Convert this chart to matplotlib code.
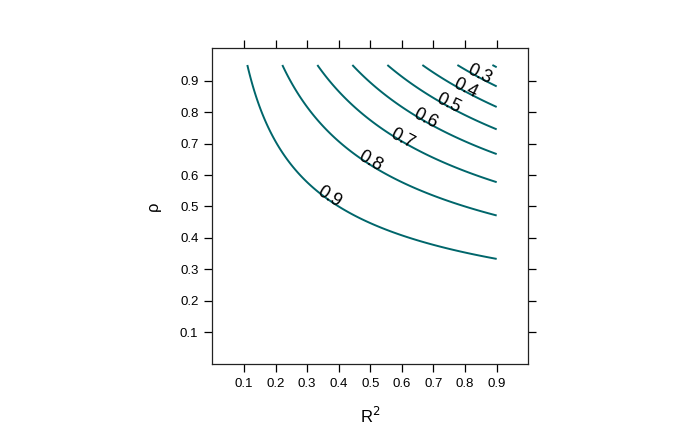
import numpy as np
import matplotlib
matplotlib.use("Agg")
import matplotlib.pyplot as plt
from matplotlib.transforms import ScaledTranslation

plt.rcParams['font.family'] = ['Liberation Sans', 'DejaVu Sans']

# Surface grid: R^2 (x) and rho (y); value plotted is 1 - R^2 * rho^2
r2_values = np.linspace(0.1, 0.9, 161)
rho_values = np.linspace(0.05, 0.95, 181)
unlabeled_levels = [0.2]
label_levels = [0.3, 0.4, 0.5, 0.6, 0.7, 0.8, 0.9]
label_spots = [(0.849, 0.929), (0.80, 0.878), (0.748, 0.83), (0.675, 0.783),
               (0.605, 0.725), (0.497, 0.64), (0.37, 0.529)]
xticks = [0.1, 0.2, 0.3, 0.4, 0.5, 0.6, 0.7, 0.8, 0.9]
yticks = [0.1, 0.2, 0.3, 0.4, 0.5, 0.6, 0.7, 0.8, 0.9]

R2, RHO = np.meshgrid(r2_values, rho_values)
Z = 1 - R2 * RHO ** 2

fig = plt.figure(figsize=(7, 4.37), dpi=100)
ax = fig.add_axes([0.3033, 0.1677, 0.4514, 0.7217])
line_col = '#00666B'
ax.contour(R2, RHO, Z, levels=unlabeled_levels, colors=line_col, linewidths=1.4)
cs = ax.contour(R2, RHO, Z, levels=label_levels, colors=line_col, linewidths=1.4)
texts = ax.clabel(cs, inline=False, fontsize=13, colors='black',
                  manual=label_spots, fmt='%g')
for t in texts:
    t.set_transform(ax.transData + ScaledTranslation(1.5 / 100, 2.5 / 100, fig.dpi_scale_trans))

ax.set_xlim(0, 1.0)
ax.set_ylim(0, 1.003)
ax.set_xticks(xticks)
ax.set_yticks(yticks)
ax.set_xticklabels([f'{v:g}' for v in xticks])
ax.set_yticklabels([f'{v:g}' for v in yticks])
ax.tick_params(direction='out', length=6, width=0.9, labelsize=9.5, pad=4,
               top=True, right=True, labeltop=False, labelright=False)
for s in ax.spines.values():
    s.set_linewidth(0.9)
    s.set_color('#222222')
ax.set_xlabel('R$^2$', fontsize=12, labelpad=12)
ax.set_ylabel('ρ', fontsize=12, labelpad=14)

fig.savefig('out.png', dpi=100)
